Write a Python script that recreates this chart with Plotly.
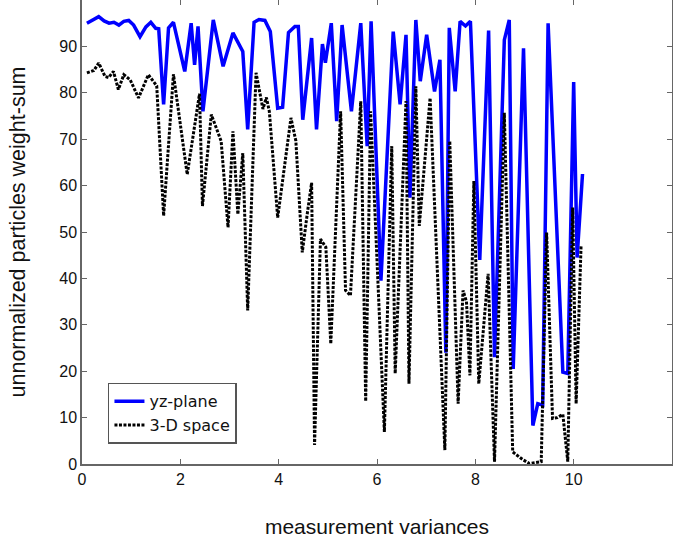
import plotly.graph_objects as go

# yz-plane series (blue solid)
x_yz = [0.1, 0.2, 0.34, 0.45, 0.55, 0.65, 0.75, 0.85, 0.95, 1.05, 1.18, 1.3, 1.4, 1.5, 1.56,
        1.66, 1.76, 1.86, 2.09, 2.22, 2.29, 2.36, 2.46, 2.67, 2.87, 3.07, 3.27, 3.37, 3.5, 3.6,
        3.72, 3.83, 3.98, 4.08, 4.2, 4.33, 4.4, 4.49, 4.67, 4.77, 4.89, 4.95, 5.07, 5.18, 5.29,
        5.48, 5.6, 5.67, 5.8, 5.88, 6.08, 6.33, 6.47, 6.59, 6.67, 6.79, 6.88, 7.01, 7.17, 7.28,
        7.4, 7.47, 7.59, 7.69, 7.8, 7.9, 8.09, 8.27, 8.39, 8.59, 8.69, 8.77, 8.98, 9.17, 9.27,
        9.37, 9.48, 9.78, 9.88, 10.0, 10.07, 10.18]
y_yz = [95.0, 95.6, 96.4, 95.5, 95.0, 95.2, 94.6, 95.4, 95.6, 94.6, 92.1, 94.2, 95.2, 93.9, 93.8,
        77.5, 94.0, 95.2, 84.6, 95.0, 86.0, 94.3, 76.0, 95.7, 85.7, 92.9, 88.9, 72.1, 95.2, 95.8,
        95.6, 93.2, 76.7, 76.9, 93.0, 94.3, 94.3, 74.2, 91.8, 72.1, 90.5, 86.5, 95.0, 73.9, 94.6,
        76.0, 89.0, 95.0, 68.5, 95.4, 39.5, 93.2, 77.5, 92.5, 57.4, 95.7, 82.5, 92.5, 80.3, 87.1,
        24.0, 94.0, 80.3, 95.4, 94.4, 95.4, 44.0, 93.4, 23.0, 91.4, 95.7, 20.5, 89.6, 8.3, 13.0,
        12.7, 95.0, 19.8, 19.5, 82.3, 44.5, 62.5]

# 3-D space series (black dotted)
x_3d = [0.1, 0.24, 0.34, 0.47, 0.54, 0.64, 0.74, 0.85, 0.98, 1.15, 1.35, 1.52, 1.66, 1.86, 2.14,
        2.39, 2.45, 2.63, 2.83, 2.97, 3.07, 3.17, 3.27, 3.37, 3.54, 3.68, 3.75, 3.81, 3.98, 4.25,
        4.35, 4.48, 4.58, 4.67, 4.73, 4.85, 4.96, 5.06, 5.26, 5.36, 5.46, 5.67, 5.77, 5.87, 6.15,
        6.30, 6.37, 6.59, 6.65, 6.79, 6.86, 7.08, 7.38, 7.48, 7.65, 7.75, 7.82, 7.89, 7.97, 8.07,
        8.26, 8.39, 8.59, 8.76, 8.97, 9.10, 9.34, 9.45, 9.57, 9.67, 9.78, 9.88, 9.98, 10.05, 10.15]
y_3d = [84.3, 84.8, 86.4, 83.5, 83.3, 84.6, 80.7, 83.9, 82.8, 78.9, 83.9, 81.5, 53.5, 84.0, 62.4,
        79.8, 55.6, 75.3, 69.6, 51.0, 71.7, 53.8, 67.0, 33.1, 84.3, 76.5, 79.0, 76.0, 53.1, 74.6,
        69.6, 45.6, 53.8, 60.6, 4.1, 48.5, 46.7, 25.9, 76.0, 37.4, 36.3, 78.2, 13.5, 76.0, 6.9,
        68.5, 19.5, 78.2, 17.3, 81.4, 51.3, 78.9, 3.0, 69.6, 13.0, 37.4, 35.0, 19.1, 61.0, 17.3,
        41.0, 0.5, 75.7, 2.6, 0.9, 0.1, 0.5, 49.9, 9.8, 10.0, 10.7, 0.5, 55.3, 13.0, 47.0]

x_ticks = [0, 2, 4, 6, 8, 10]
y_ticks = [0, 10, 20, 30, 40, 50, 60, 70, 80, 90, 100]

fig = go.Figure()
fig.add_trace(go.Scatter(x=x_yz, y=y_yz, mode="lines", name="yz-plane",
                         line=dict(color="#0000FF", width=3.5)))
fig.add_trace(go.Scatter(x=x_3d, y=y_3d, mode="lines", name="3-D space",
                         line=dict(color="#000000", width=3, dash="3px,1.5px")))

axis_common = dict(showgrid=False, zeroline=False, showline=True, linecolor="#666666",
                   linewidth=1.5, mirror="ticks", ticks="inside", ticklen=5,
                   tickcolor="#666666", automargin=False,
                   tickfont=dict(family="Liberation Sans, Arial", size=16, color="#111111"))

fig.update_xaxes(range=[0, 12], tickvals=x_ticks, **axis_common,
                 title=dict(text="measurement variances", standoff=32,
                            font=dict(family="Liberation Sans, Arial", size=21, color="#111111")))
fig.update_yaxes(range=[0, 100], tickvals=y_ticks, **axis_common,
                 title=dict(text="unnormalized particles weight-sum", standoff=28,
                            font=dict(family="Liberation Sans, Arial", size=21.5, color="#111111")))

fig.update_layout(
    width=673, height=545,
    margin=dict(l=82, r=1, t=0, b=81),
    paper_bgcolor="white", plot_bgcolor="white",
    showlegend=True,
    legend=dict(x=0.044, y=0.175, xanchor="left", yanchor="top",
                bgcolor="white", bordercolor="#555555", borderwidth=1.5,
                font=dict(family="DejaVu Sans", size=16, color="#111111"),
                tracegroupgap=2),
)

fig.write_html("out.html")
